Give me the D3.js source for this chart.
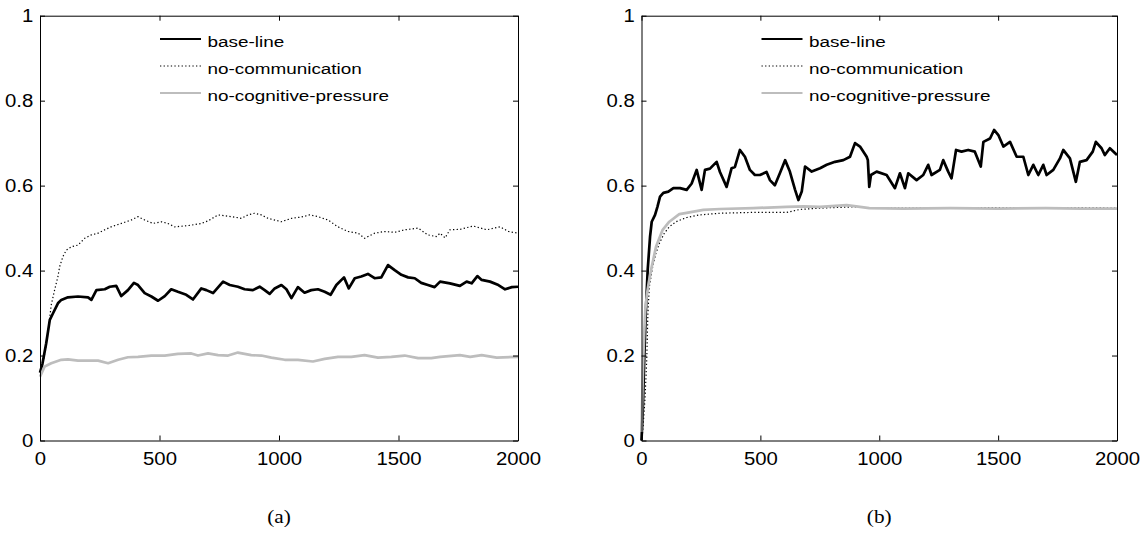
<!DOCTYPE html>
<html>
<head>
<meta charset="utf-8">
<script src="https://cdn.jsdelivr.net/npm/d3@7"></script>
<style>
  body { margin: 0; background: #fff; }
  svg { display: block; }
</style>
</head>
<body>
<svg id="fig" width="1144" height="536"></svg>
<script>
// tick labels
const xTicks = [0, 500, 1000, 1500, 2000];
const yTicks = [0, 0.2, 0.4, 0.6, 0.8, 1];
const seriesNames = ["base-line", "no-communication", "no-cognitive-pressure"];

// panel (a) : [step, value]
const baseA = [[0,0.160],[10,0.180],[26,0.229],[41,0.284],[54,0.299],[75,0.323],[89,0.331],[117,0.337],[159,0.339],[201,0.337],[215,0.331],[236,0.354],[271,0.356],[292,0.362],[319,0.364],[340,0.340],[368,0.354],[393,0.371],[410,0.366],[438,0.347],[466,0.339],[494,0.329],[522,0.340],[549,0.356],[577,0.350],[612,0.343],[640,0.332],[675,0.358],[696,0.354],[724,0.347],[766,0.374],[794,0.366],[828,0.362],[856,0.356],[891,0.354],[919,0.362],[940,0.354],[961,0.345],[982,0.358],[1010,0.366],[1031,0.356],[1052,0.335],[1079,0.361],[1107,0.348],[1135,0.354],[1163,0.356],[1191,0.350],[1216,0.343],[1240,0.366],[1272,0.384],[1292,0.358],[1317,0.382],[1344,0.386],[1372,0.392],[1400,0.382],[1428,0.384],[1456,0.413],[1484,0.401],[1512,0.390],[1540,0.384],[1568,0.382],[1595,0.371],[1623,0.366],[1651,0.361],[1674,0.374],[1715,0.370],[1757,0.364],[1785,0.374],[1806,0.370],[1830,0.387],[1848,0.378],[1883,0.374],[1918,0.366],[1946,0.356],[1974,0.361],[2000,0.362]];
const commA = [[0,0.160],[15,0.190],[30,0.240],[47,0.319],[61,0.354],[75,0.386],[82,0.409],[96,0.433],[110,0.448],[131,0.456],[159,0.460],[187,0.476],[215,0.484],[243,0.488],[271,0.496],[298,0.503],[340,0.511],[382,0.519],[410,0.527],[438,0.519],[473,0.511],[508,0.515],[535,0.511],[563,0.503],[605,0.505],[633,0.507],[675,0.511],[703,0.517],[745,0.531],[773,0.529],[801,0.527],[843,0.523],[870,0.531],[898,0.535],[926,0.531],[954,0.523],[1010,0.515],[1052,0.523],[1093,0.526],[1128,0.531],[1163,0.527],[1205,0.519],[1247,0.503],[1289,0.492],[1331,0.488],[1358,0.476],[1400,0.488],[1442,0.492],[1484,0.490],[1526,0.496],[1582,0.500],[1623,0.484],[1658,0.480],[1674,0.488],[1695,0.477],[1715,0.496],[1757,0.497],[1813,0.505],[1869,0.496],[1925,0.503],[1960,0.492],[2000,0.488]];
const cogA = [[0,0.150],[19,0.174],[47,0.182],[89,0.190],[117,0.191],[159,0.188],[201,0.188],[243,0.188],[285,0.182],[327,0.190],[368,0.196],[410,0.197],[466,0.200],[522,0.200],[577,0.204],[633,0.205],[661,0.200],[703,0.205],[745,0.201],[787,0.200],[828,0.207],[884,0.201],[926,0.200],[968,0.195],[1024,0.190],[1079,0.190],[1142,0.186],[1191,0.192],[1247,0.197],[1303,0.197],[1358,0.201],[1414,0.195],[1470,0.197],[1526,0.200],[1582,0.194],[1637,0.194],[1674,0.197],[1757,0.201],[1800,0.197],[1848,0.201],[1911,0.195],[2000,0.197]];

// panel (b)
const baseB = [[0,0.000],[6,0.080],[12,0.200],[18,0.300],[26,0.401],[36,0.480],[43,0.515],[57,0.531],[67,0.550],[78,0.574],[92,0.583],[113,0.586],[134,0.594],[162,0.594],[190,0.590],[211,0.605],[232,0.637],[253,0.590],[267,0.637],[288,0.640],[316,0.656],[330,0.632],[358,0.597],[379,0.641],[393,0.644],[414,0.684],[435,0.668],[456,0.637],[477,0.625],[498,0.625],[526,0.632],[540,0.613],[561,0.601],[582,0.629],[604,0.660],[624,0.633],[646,0.590],[660,0.566],[674,0.586],[688,0.645],[716,0.633],[751,0.641],[779,0.649],[814,0.656],[849,0.660],[877,0.668],[898,0.700],[919,0.692],[947,0.668],[952,0.660],[958,0.597],[965,0.625],[989,0.633],[1031,0.625],[1066,0.594],[1087,0.629],[1108,0.594],[1122,0.629],[1157,0.613],[1185,0.625],[1206,0.649],[1220,0.625],[1255,0.637],[1269,0.660],[1290,0.633],[1304,0.617],[1323,0.684],[1346,0.680],[1374,0.684],[1402,0.680],[1427,0.645],[1438,0.703],[1466,0.711],[1483,0.731],[1501,0.719],[1522,0.692],[1550,0.703],[1578,0.668],[1606,0.668],[1627,0.625],[1648,0.649],[1669,0.625],[1690,0.649],[1704,0.625],[1732,0.637],[1760,0.664],[1774,0.684],[1802,0.664],[1827,0.609],[1844,0.656],[1872,0.660],[1898,0.680],[1911,0.703],[1935,0.688],[1949,0.672],[1970,0.688],[2000,0.672]];
const commB = [[0,0.000],[5,0.020],[15,0.100],[22,0.190],[27,0.300],[33,0.362],[47,0.409],[61,0.441],[75,0.464],[96,0.488],[117,0.503],[145,0.515],[190,0.525],[243,0.531],[330,0.535],[470,0.537],[611,0.537],[667,0.544],[751,0.547],[891,0.550],[958,0.548],[1100,0.547],[1300,0.548],[1500,0.548],[1700,0.547],[1850,0.548],[2000,0.547]];
const cogB = [[0,0.020],[4,0.120],[8,0.200],[12,0.260],[16,0.307],[22,0.340],[30,0.370],[40,0.401],[61,0.456],[89,0.496],[117,0.515],[159,0.533],[190,0.536],[260,0.543],[330,0.545],[470,0.547],[611,0.550],[681,0.551],[751,0.550],[863,0.554],[919,0.550],[958,0.547],[1100,0.546],[1300,0.547],[1500,0.546],[1700,0.547],[1850,0.546],[2000,0.546]];

const svg = d3.select("#fig");
const yTop = 15.7, yBottom = 440.5;
const stretch = "scale(1.13,1)";

const styles = [
    { stroke: "#000", width: 2.7, dash: null },
    { stroke: "#000", width: 1.2, dash: "1.3,2.3" },
    { stroke: "#bdbdbd", width: 2.7, dash: null },
];

function drawPanel(x0, x1, series, caption) {
    const x = d3.scaleLinear().domain([0, 2000]).range([x0, x1]);
    const y = d3.scaleLinear().domain([0, 1]).range([yBottom, yTop]);
    const g = svg.append("g");

    // lines, in matlab plot order
    const line = d3.line().x((d) => x(d[0])).y((d) => y(d[1]));
    series.forEach(function (s, i) {
        g.append("path")
            .datum(s)
            .attr("fill", "none")
            .attr("stroke", styles[i].stroke)
            .attr("stroke-width", styles[i].width)
            .attr("stroke-dasharray", styles[i].dash)
            .attr("stroke-linejoin", "round")
            .attr("d", line);
    });

    // box with inward ticks on all sides
    const axB = g.append("g").attr("transform", `translate(0,${yBottom})`)
        .call(d3.axisBottom(x).tickValues(xTicks).tickSizeInner(-5).tickSizeOuter(0).tickPadding(12).tickFormat(d3.format("d")));
    g.append("g").attr("transform", `translate(${x0},0)`)
        .call(d3.axisLeft(y).tickValues(yTicks).tickSizeInner(-5).tickSizeOuter(0).tickPadding(6).tickFormat((d) => String(d)));
    g.append("g").attr("transform", `translate(0,${yTop})`)
        .call(d3.axisTop(x).tickValues(xTicks).tickSizeInner(-5).tickSizeOuter(0).tickFormat(""));
    g.append("g").attr("transform", `translate(${x1},0)`)
        .call(d3.axisRight(y).tickValues(yTicks).tickSizeInner(-5).tickSizeOuter(0).tickFormat(""));

    g.selectAll(".domain, .tick line").attr("stroke", "#000").attr("stroke-width", 1);
    g.selectAll(".tick text")
        .attr("fill", "#000")
        .style("font-family", "'Liberation Sans', Arial, Helvetica, sans-serif")
        .style("font-size", "18px")
        .attr("transform", stretch);
    axB.selectAll(".tick text").attr("dy", "0.71em");

    // legend
    const lg = g.append("g").attr("transform", `translate(${x0},0)`);
    const rows = [39, 66, 93];
    seriesNames.forEach(function (name, i) {
        lg.append("line")
            .attr("x1", 120).attr("x2", 161)
            .attr("y1", rows[i]).attr("y2", rows[i])
            .attr("stroke", styles[i].stroke)
            .attr("stroke-width", i === 1 ? 1.2 : 2)
            .attr("stroke-dasharray", styles[i].dash);
        lg.append("text")
            .attr("transform", `translate(167.5,${rows[i] + 7.5}) scale(1.22,1)`)
            .style("font-family", "'Liberation Sans', Arial, Helvetica, sans-serif")
            .style("font-size", "15.5px")
            .text(name);
    });

    // caption
    svg.append("text")
        .attr("transform", `translate(${(x0 + x1) / 2},523) scale(1.12,1)`)
        .attr("text-anchor", "middle")
        .style("font-family", "'Liberation Serif', 'Times New Roman', serif")
        .style("font-size", "19px")
        .text(caption);
}

drawPanel(40, 518, [baseA, commA, cogA], "(a)");
drawPanel(641.5, 1117, [baseB, commB, cogB], "(b)");
</script>
</body>
</html>
